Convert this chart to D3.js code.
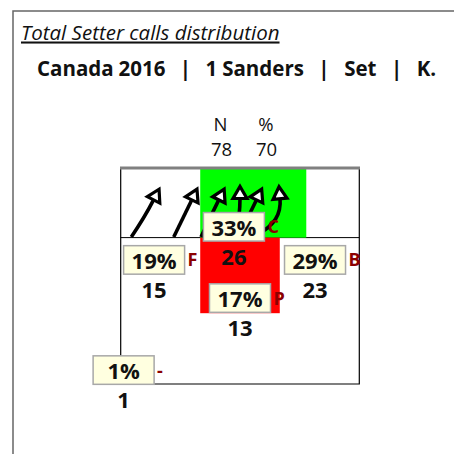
<!DOCTYPE html>
<html>
<head>
<meta charset="utf-8">
<script src="https://cdn.jsdelivr.net/npm/d3@7"></script>
<style>
  html, body { margin: 0; padding: 0; background: #fff; }
  svg { display: block; font-family: "Open Sans", "Noto Sans", sans-serif; }
</style>
</head>
<body>
<svg id="chart" width="454" height="454"></svg>
<script>
// Setter call distribution by attack zone
const zoneCodes   = ["F", "C", "B", "P", "-"];
const zonePercent = [19, 33, 29, 17, 1];
const zoneCount   = [15, 26, 23, 13, 1];
// zone label anchor on the half court (metres, 0..9)
const zoneX = [1.26, 4.27, 7.33, 4.5, 0.11];
const zoneY = [3.83, 2.45, 3.83, 5.42, 8.42];

const totalN = 78;
const totalPct = 70;

// set trajectories on the court (metres): origin, bend, destination
const arrowFrom = [[0.40, 2.875], [2.00, 2.875], [3.03, 2.875], [4.355, 2.83], [4.425, 2.875], [5.18, 2.75]];
const arrowBend = [[0.90, 2.06], [2.36, 2.06], [3.37, 2.06], [4.50, 1.92], [4.80, 2.06], [6.085, 2.25]];
const arrowTo   = [[1.24, 1.33], [2.68, 1.33], [3.70, 1.33], [4.50, 1.27], [5.12, 1.33], [6.01, 1.28]];

// highlighted court areas (metres)
const areaX0 = [3, 3];
const areaX1 = [7, 6];
const areaY0 = [0, 2.9];
const areaY1 = [2.9, 6.05];
const areaColor = ["#00ff00", "#ff0000"];
const attackLine = 2.9;

const titleText = "Total Setter calls distribution";
const subtitleText = "Canada 2016   |   1 Sanders   |   Set   |   K.";

const svg = d3.select("#chart");

const x = d3.scaleLinear().domain([0, 9]).range([120.7, 359.3]);
const y = d3.scaleLinear().domain([0, 9]).range([168, 384]);

// outer frame
svg.append("path")
  .attr("d", "M13,454 L13,11 L454,11")
  .attr("fill", "none")
  .attr("stroke", "#666")
  .attr("stroke-width", 1.5);

svg.append("text")
  .attr("x", 21).attr("y", 39.5)
  .attr("font-size", 20.5)
  .attr("font-style", "italic")
  .attr("text-decoration", "underline")
  .attr("fill", "#111")
  .text(titleText);

svg.append("text")
  .attr("x", 37).attr("y", 75.5)
  .attr("font-size", 20.5)
  .attr("font-weight", "bold")
  .attr("word-spacing", -0.5)
  .attr("fill", "#111")
  .style("white-space", "pre")
  .text(subtitleText);

// N / % header
const head = svg.append("g").attr("font-size", 18.5).attr("fill", "#111").attr("text-anchor", "middle");
head.append("text").attr("x", 220.5).attr("y", 131).text("N");
head.append("text").attr("x", 266).attr("y", 131).text("%");
head.append("text").attr("x", 221.5).attr("y", 155.5).text(totalN);
head.append("text").attr("x", 266.5).attr("y", 155.5).text(totalPct);

// court areas
const areas = svg.append("g");

// court lines
const court = svg.append("g").attr("fill", "none");
court.append("line")
  .attr("x1", x(0)).attr("x2", x(9))
  .attr("y1", y(attackLine)).attr("y2", y(attackLine))
  .attr("stroke", "#000").attr("stroke-width", 1);
court.append("path")
  .attr("d", `M${x(0)},${y(0)} L${x(0)},${y(9)} L${x(9)},${y(9)} L${x(9)},${y(0)}`)
  .attr("stroke", "#000").attr("stroke-width", 1.2);

areas.raise();
areas.selectAll("rect")
  .data(areaColor)
  .join("rect")
  .attr("x", (d, i) => x(areaX0[i]))
  .attr("y", (d, i) => y(areaY0[i]))
  .attr("width", (d, i) => x(areaX1[i]) - x(areaX0[i]))
  .attr("height", (d, i) => y(areaY1[i]) - y(areaY0[i]))
  .attr("fill", d => d);

svg.append("line")
  .attr("x1", x(0) - 0.7).attr("x2", x(9) + 0.7)
  .attr("y1", y(0)).attr("y2", y(0))
  .attr("stroke", "#808080").attr("stroke-width", 3);

// set trajectories
const arrows = svg.append("g");
arrowFrom.forEach((from, i) => {
  const p0 = [x(from[0]), y(from[1])];
  const pc = [x(arrowBend[i][0]), y(arrowBend[i][1])];
  const p1 = [x(arrowTo[i][0]), y(arrowTo[i][1])];
  const path = d3.path();
  path.moveTo(p0[0], p0[1]);
  path.quadraticCurveTo(pc[0], pc[1], p1[0], p1[1]);
  arrows.append("path")
    .attr("d", path.toString())
    .attr("fill", "none")
    .attr("stroke", "#000")
    .attr("stroke-width", 3.6);
  const ang = Math.atan2(p1[1] - pc[1], p1[0] - pc[0]);
  const ux = Math.cos(ang), uy = Math.sin(ang);
  const vx = -uy, vy = ux;
  const hw = 7, hl = 12;
  const pts = [
    [p1[0] + vx * hw, p1[1] + vy * hw],
    [p1[0] + ux * hl, p1[1] + uy * hl],
    [p1[0] - vx * hw, p1[1] - vy * hw]
  ];
  arrows.append("polygon")
    .attr("points", pts.map(p => p.join(",")).join(" "))
    .attr("fill", "#fff")
    .attr("stroke", "#000")
    .attr("stroke-width", 3.2);
});

// zone labels
const boxW = 61, boxH = 28.5;
const labels = svg.append("g").selectAll("g")
  .data(zoneCodes)
  .join("g")
  .attr("transform", (d, i) => `translate(${x(zoneX[i])},${y(zoneY[i])})`);

labels.append("rect")
  .attr("x", -boxW / 2).attr("y", -boxH / 2)
  .attr("width", boxW).attr("height", boxH)
  .attr("fill", "#ffffe0")
  .attr("stroke", "#a8a8a8")
  .attr("stroke-width", 1.5);

labels.append("text")
  .attr("text-anchor", "middle")
  .attr("y", 9)
  .attr("font-size", 22)
  .attr("font-weight", "bold")
  .attr("fill", "#111")
  .text((d, i) => zonePercent[i] + "%");

labels.append("text")
  .attr("x", boxW / 2 + 3)
  .attr("y", 6.5)
  .attr("font-size", 18)
  .attr("font-weight", "bold")
  .attr("fill", "#8b0000")
  .text(d => d);

labels.append("text")
  .attr("text-anchor", "middle")
  .attr("y", 38)
  .attr("font-size", 22)
  .attr("font-weight", "bold")
  .attr("fill", "#111")
  .text((d, i) => zoneCount[i]);
</script>
</body>
</html>
